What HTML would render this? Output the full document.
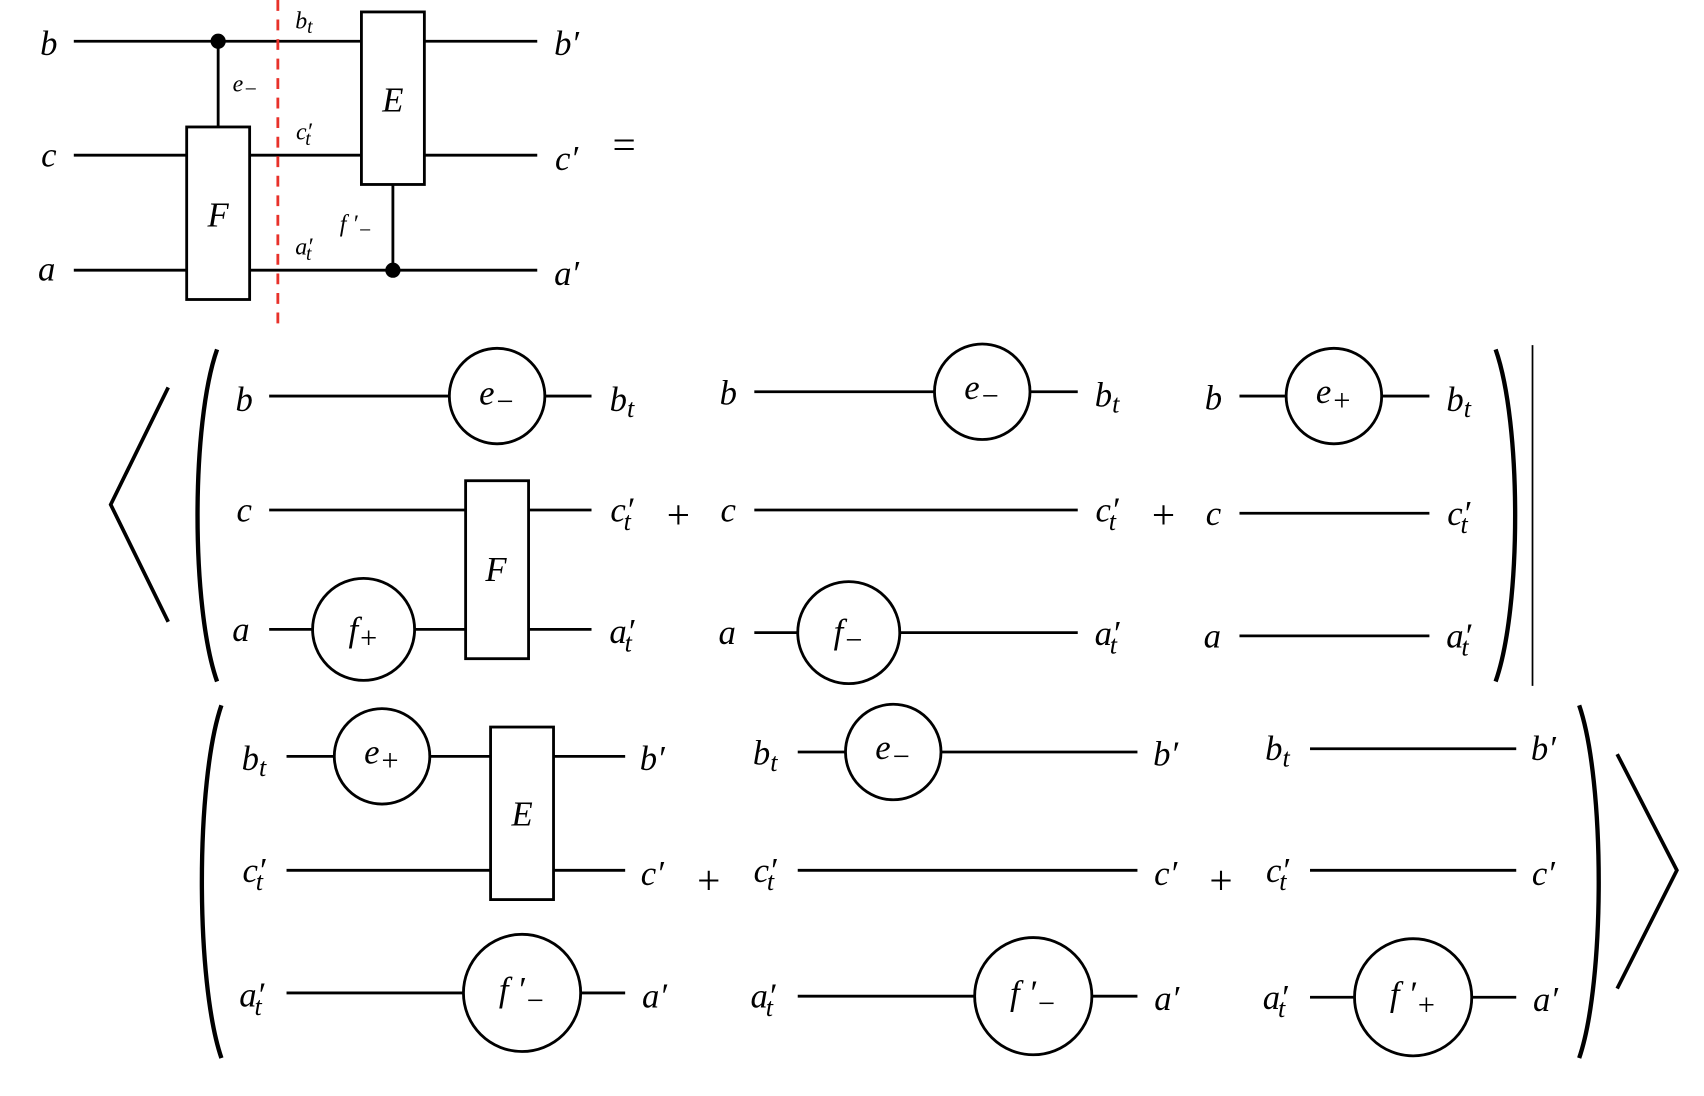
<!DOCTYPE html>
<html><head><meta charset="utf-8"><style>
html,body{margin:0;padding:0;background:#fff;width:1704px;height:1096px;overflow:hidden}
svg{display:block}
text{font-family:"Liberation Serif",serif;font-style:italic;fill:#000;text-anchor:middle;dominant-baseline:central}
.s{font-size:22px}
.n{font-style:normal}
.p{font-style:normal;font-size:38px}
</style></head><body>
<svg width="1704" height="1096" viewBox="0 0 1570 1010" preserveAspectRatio="none" xmlns="http://www.w3.org/2000/svg">
<g stroke="#000" stroke-width="2.6" fill="none">
<line x1="68" y1="38" x2="333" y2="38"/><line x1="391" y1="38" x2="495" y2="38"/>
<line x1="68" y1="143" x2="172" y2="143"/><line x1="230" y1="143" x2="333" y2="143"/><line x1="391" y1="143" x2="495" y2="143"/>
<line x1="68" y1="249" x2="172" y2="249"/><line x1="230" y1="249" x2="495" y2="249"/>
<line x1="201" y1="38" x2="201" y2="117"/>
<rect x="172" y="117" width="58" height="159" fill="#fff"/>
<rect x="333" y="11" width="58" height="159" fill="#fff"/>
<line x1="362" y1="170" x2="362" y2="249"/>
<line x1="256" y1="0" x2="256" y2="300" stroke="#e8312a" stroke-dasharray="10,8"/>
<polyline points="155,357 102,465 155,573" stroke-width="3.4"/>
<path d="M200 322 C176 390,176 560,200 628" stroke-width="4"/>
<path d="M1378 322 C1402 390,1402 560,1378 628" stroke-width="4"/>
<line x1="1412" y1="318" x2="1412" y2="632" stroke-width="1.6"/>
<line x1="248" y1="365" x2="414" y2="365"/><circle cx="458" cy="365" r="44"/><line x1="502" y1="365" x2="545" y2="365"/>
<line x1="248" y1="470" x2="429" y2="470"/><line x1="487" y1="470" x2="545" y2="470"/>
<line x1="248" y1="580" x2="288" y2="580"/><circle cx="335" cy="580" r="47"/><line x1="382" y1="580" x2="429" y2="580"/><line x1="487" y1="580" x2="545" y2="580"/>
<rect x="429" y="443" width="58" height="164" fill="#fff"/>
<line x1="695" y1="361" x2="861" y2="361"/><circle cx="905" cy="361" r="44"/><line x1="949" y1="361" x2="993" y2="361"/>
<line x1="695" y1="470" x2="993" y2="470"/>
<line x1="695" y1="583" x2="735" y2="583"/><circle cx="782" cy="583" r="47"/><line x1="829" y1="583" x2="993" y2="583"/>
<line x1="1142" y1="365" x2="1185" y2="365"/><circle cx="1229" cy="365" r="44"/><line x1="1273" y1="365" x2="1317" y2="365"/>
<line x1="1142" y1="473" x2="1317" y2="473"/>
<line x1="1142" y1="586" x2="1317" y2="586"/>
<path d="M204 650 C180 720,180 905,204 975" stroke-width="4"/>
<path d="M1455 650 C1479 720,1479 905,1455 975" stroke-width="4"/>
<polyline points="1490,695 1545,802 1490,911" stroke-width="3.4"/>
<line x1="264" y1="697" x2="308" y2="697"/><circle cx="352" cy="697" r="44"/><line x1="396" y1="697" x2="452" y2="697"/><line x1="510" y1="697" x2="576" y2="697"/>
<line x1="264" y1="802" x2="452" y2="802"/><line x1="510" y1="802" x2="576" y2="802"/>
<rect x="452" y="670" width="58" height="159" fill="#fff"/>
<line x1="264" y1="915" x2="427" y2="915"/><circle cx="481" cy="915" r="54"/><line x1="535" y1="915" x2="576" y2="915"/>
<line x1="735" y1="693" x2="779" y2="693"/><circle cx="823" cy="693" r="44"/><line x1="867" y1="693" x2="1048" y2="693"/>
<line x1="735" y1="802" x2="1048" y2="802"/>
<line x1="735" y1="918" x2="898" y2="918"/><circle cx="952" cy="918" r="54"/><line x1="1006" y1="918" x2="1048" y2="918"/>
<line x1="1207" y1="690" x2="1397" y2="690"/>
<line x1="1207" y1="802" x2="1397" y2="802"/>
<line x1="1207" y1="919" x2="1247" y2="919"/><circle cx="1302" cy="919" r="54"/><line x1="1356" y1="919" x2="1397" y2="919"/>
</g>
<circle cx="201" cy="38" r="7"/><circle cx="362" cy="249" r="7"/>
<g font-size="32">
<text x="45" y="40">b</text><text x="45" y="143">c</text><text x="43" y="248">a</text>
<text x="522" y="40">b′</text><text x="522" y="146">c′</text><text x="522" y="252">a′</text>
<text x="575" y="133" class="p">=</text>
<text x="201" y="198">F</text><text x="362" y="92">E</text>
<text x="280" y="20" class="s">b<tspan font-size="18" dy="5">t</tspan></text>
<text x="226" y="78" class="s">e<tspan font-size="20" dy="4">−</tspan></text>
<text x="280" y="122" class="s">c′<tspan font-size="18" dy="6" dx="-6">t</tspan></text>
<text x="280" y="228" class="s">a′<tspan font-size="18" dy="6" dx="-6">t</tspan></text>
<text x="328" y="207" class="s">f ′<tspan font-size="20" dy="5">−</tspan></text>
<text x="225" y="368">b</text><text x="225" y="470">c</text><text x="222" y="580">a</text>
<text x="458" y="362">e<tspan font-size="28" dy="8">−</tspan></text>
<text x="457" y="525">F</text>
<text x="335" y="580">f<tspan font-size="28" dy="8">+</tspan></text>
<text x="573" y="368">b<tspan font-size="24" dy="8">t</tspan></text>
<text x="573" y="470">c′<tspan font-size="24" dy="10" dx="-9">t</tspan></text>
<text x="573" y="582">a′<tspan font-size="24" dy="10" dx="-9">t</tspan></text>
<text x="625" y="474" class="p">+</text>
<text x="671" y="362">b</text><text x="671" y="470">c</text><text x="670" y="583">a</text>
<text x="905" y="357">e<tspan font-size="28" dy="8">−</tspan></text>
<text x="782" y="582">f<tspan font-size="28" dy="8">−</tspan></text>
<text x="1020" y="364">b<tspan font-size="24" dy="8">t</tspan></text>
<text x="1020" y="470">c′<tspan font-size="24" dy="10" dx="-9">t</tspan></text>
<text x="1020" y="584">a′<tspan font-size="24" dy="10" dx="-9">t</tspan></text>
<text x="1072" y="474" class="p">+</text>
<text x="1118" y="367">b</text><text x="1118" y="473">c</text><text x="1117" y="586">a</text>
<text x="1229" y="361">e<tspan font-size="28" dy="8">+</tspan></text>
<text x="1344" y="368">b<tspan font-size="24" dy="8">t</tspan></text>
<text x="1344" y="473">c′<tspan font-size="24" dy="10" dx="-9">t</tspan></text>
<text x="1344" y="586">a′<tspan font-size="24" dy="10" dx="-9">t</tspan></text>
<text x="234" y="699">b<tspan font-size="24" dy="8">t</tspan></text>
<text x="234" y="802">c′<tspan font-size="24" dy="10" dx="-9">t</tspan></text>
<text x="232" y="917">a′<tspan font-size="24" dy="10" dx="-9">t</tspan></text>
<text x="352" y="693">e<tspan font-size="28" dy="8">+</tspan></text>
<text x="481" y="750">E</text>
<text x="481" y="912">f ′<tspan font-size="28" dy="10">−</tspan></text>
<text x="601" y="699">b′</text><text x="601" y="805">c′</text><text x="603" y="918">a′</text>
<text x="653" y="811" class="p">+</text>
<text x="705" y="694">b<tspan font-size="24" dy="8">t</tspan></text>
<text x="705" y="802">c′<tspan font-size="24" dy="10" dx="-9">t</tspan></text>
<text x="703" y="918">a′<tspan font-size="24" dy="10" dx="-9">t</tspan></text>
<text x="823" y="689">e<tspan font-size="28" dy="8">−</tspan></text>
<text x="952" y="915">f ′<tspan font-size="28" dy="10">−</tspan></text>
<text x="1074" y="695">b′</text><text x="1074" y="805">c′</text><text x="1075" y="920">a′</text>
<text x="1125" y="811" class="p">+</text>
<text x="1177" y="690">b<tspan font-size="24" dy="8">t</tspan></text>
<text x="1177" y="802">c′<tspan font-size="24" dy="10" dx="-9">t</tspan></text>
<text x="1175" y="919">a′<tspan font-size="24" dy="10" dx="-9">t</tspan></text>
<text x="1302" y="916">f ′<tspan font-size="28" dy="10">+</tspan></text>
<text x="1422" y="690">b′</text><text x="1422" y="805">c′</text><text x="1424" y="921">a′</text>
</g>
</svg>
</body></html>
